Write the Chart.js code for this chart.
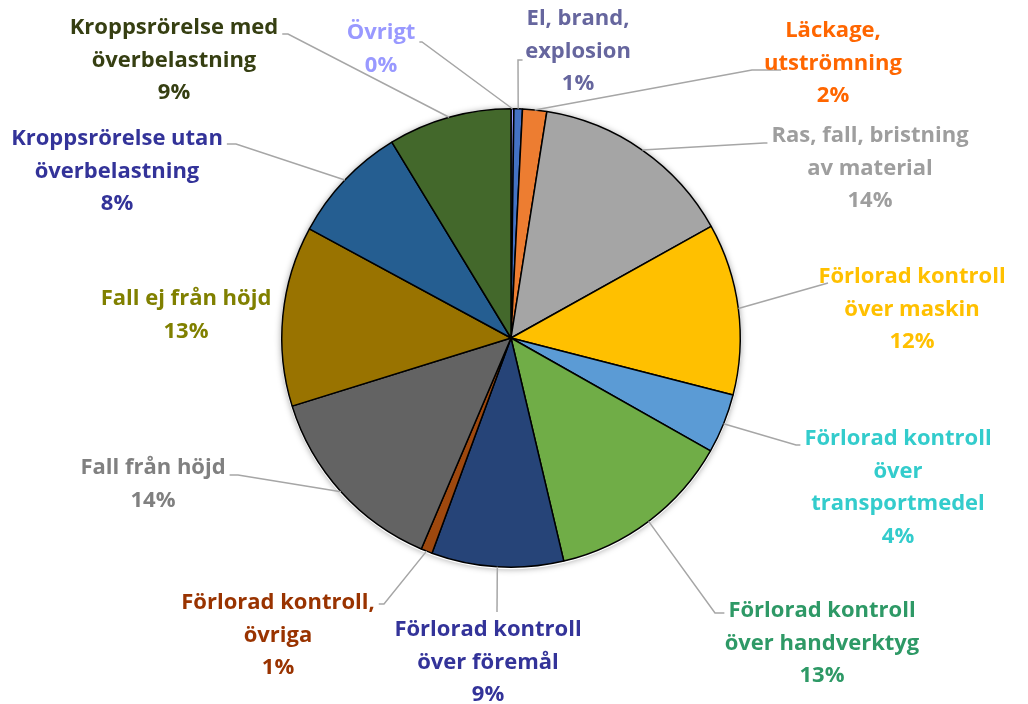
<!DOCTYPE html>
<html>
<head>
<meta charset="utf-8">
<script src="https://cdn.jsdelivr.net/npm/chart.js@4.4.1/dist/chart.umd.min.js"></script>
<style>
  body { margin: 0; background: #fff; }
  canvas { display: block; }
</style>
</head>
<body>
<canvas id="pie" width="1028" height="704"></canvas>
<script>
// Categories (clockwise from 12 o'clock)
const categories = [
  ["Övrigt"],
  ["El, brand,", "explosion"],
  ["Läckage,", "utströmning"],
  ["Ras, fall, bristning", "av material"],
  ["Förlorad kontroll", "över maskin"],
  ["Förlorad kontroll", "över", "transportmedel"],
  ["Förlorad kontroll", "över handverktyg"],
  ["Förlorad kontroll", "över föremål"],
  ["Förlorad kontroll,", "övriga"],
  ["Fall från höjd"],
  ["Fall ej från höjd"],
  ["Kroppsrörelse utan", "överbelastning"],
  ["Kroppsrörelse med", "överbelastning"]
];

// Share of cases, percent
const shares = [0.2, 0.6, 1.7, 14.4, 12.1, 4.2, 13.1, 9.3, 0.8, 13.8, 12.7, 8.4, 8.7];

// Slice and label colours
const sliceColors = ["#9999FF", "#4472C4", "#ED7D31", "#A5A5A5", "#FFC000", "#5B9BD5", "#70AD47",
  "#264478", "#9E480E", "#636363", "#997300", "#255E91", "#43682B"];
const textColors = ["#9999FF", "#66669E", "#FF6600", "#9E9E9E", "#FFC000", "#33CCCC", "#2E9966",
  "#333399", "#993300", "#808080", "#808000", "#333399", "#363F12"];

// Label layout: text centre x, first line y, elbow point of leader line (null = no leader)
const labelPos = [
  { x: 381, y: 33, elbow: [422, 42] },
  { x: 578, y: 19, elbow: [518, 60] },
  { x: 833, y: 31, elbow: [752, 70] },
  { x: 870, y: 136, elbow: [764, 143] },
  { x: 912, y: 277, elbow: [828, 283] },
  { x: 898, y: 439, elbow: [796, 445] },
  { x: 822, y: 611, elbow: [715, 613] },
  { x: 488, y: 630, elbow: [497, 612] },
  { x: 278, y: 603, elbow: [384, 604] },
  { x: 153, y: 468, elbow: [238, 475] },
  { x: 186, y: 299, elbow: null },
  { x: 117, y: 139, elbow: [236, 144] },
  { x: 174, y: 28, elbow: [288, 34] }
];

const lineHeight = 32.5;
const labelFont = "bold 22px 'Open Sans', sans-serif";

// Draw data labels with leader lines
const calloutPlugin = {
  id: "callouts",
  beforeDatasetsDraw(chart) {
    const ctx = chart.ctx;
    const arc = chart.getDatasetMeta(0).data[0];
    ctx.save();
    ctx.beginPath();
    ctx.arc(arc.x, arc.y + 1, arc.outerRadius + 1, 0, Math.PI * 2);
    ctx.shadowColor = "rgba(0,0,0,0.35)";
    ctx.shadowBlur = 6;
    ctx.fillStyle = "#fff";
    ctx.fill();
    ctx.restore();
  },
  afterDraw(chart) {
    const ctx = chart.ctx;
    const arcs = chart.getDatasetMeta(0).data;
    ctx.save();
    ctx.font = labelFont;
    ctx.textAlign = "center";
    ctx.textBaseline = "middle";
    arcs.forEach((a, i) => {
      const pos = labelPos[i];
      if (pos.elbow) {
        const mid = (a.startAngle + a.endAngle) / 2;
        const ax = a.x + Math.cos(mid) * a.outerRadius;
        const ay = a.y + Math.sin(mid) * a.outerRadius;
        ctx.strokeStyle = "#A6A6A6";
        ctx.lineWidth = 1.5;
        ctx.beginPath();
        ctx.moveTo(ax, ay);
        ctx.lineTo(pos.elbow[0], pos.elbow[1]);
        const w = ctx.measureText(categories[i][0]).width;
        const tx = pos.elbow[0] < pos.x ? pos.x - w / 2 - 4 : pos.x + w / 2 + 4;
        if (Math.abs(pos.elbow[0] - pos.x) > w / 2) {
          ctx.lineTo(tx, pos.elbow[1]);
        }
        ctx.stroke();
      }
      ctx.fillStyle = textColors[i];
      const lines = categories[i].concat([Math.round(shares[i]) + "%"]);
      lines.forEach((t, k) => ctx.fillText(t, pos.x, pos.y + k * lineHeight));
    });
    ctx.restore();
  }
};

new Chart(document.getElementById("pie"), {
  type: "pie",
  data: {
    labels: categories.map(c => c.join(" ")),
    datasets: [{
      data: shares,
      backgroundColor: sliceColors,
      borderColor: "#000",
      borderWidth: 1.5
    }]
  },
  options: {
    responsive: false,
    animation: false,
    layout: { padding: { top: 108, bottom: 136, left: 281, right: 287 } },
    plugins: { legend: { display: false }, tooltip: { enabled: false } }
  },
  plugins: [calloutPlugin]
});
</script>
</body>
</html>
